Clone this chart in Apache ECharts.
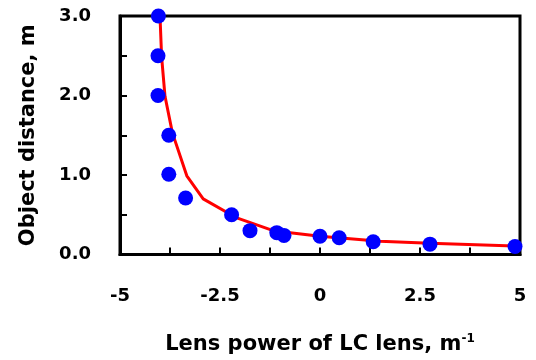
<!DOCTYPE html>
<html>
<head>
<meta charset="utf-8">
<script src="https://cdn.jsdelivr.net/npm/echarts@6/dist/echarts.min.js"></script>
<style>html,body{margin:0;padding:0;background:#fff}#c{width:536px;height:360px}</style>
</head>
<body>
<div id="c"></div>
<script>
var pointX = [-4.04, -4.05, -4.05, -3.78, -3.78, -3.36, -2.21, -1.75, -1.08, -0.9, 0.0, 0.48, 1.33, 2.75, 4.875];
var pointY = [3.0, 2.5, 2.0, 1.5, 1.01, 0.71, 0.5, 0.30, 0.275, 0.24, 0.23, 0.21, 0.16, 0.13, 0.10];
var curveX = [-4.0, -3.96, -3.875, -3.69, -3.33, -2.92, -2.08, -1.17, 0, 1.5, 2.75, 5.25];
var curveY = [3.0, 2.49, 1.99, 1.53, 0.99, 0.70, 0.46, 0.30, 0.23, 0.167, 0.14, 0.10];
var xTickLabels = {'-5': '-5', '-2.5': '-2.5', '0': '0', '2.5': '2.5', '5': '5'};
var yTickLabels = {'0': '0.0', '1': '1.0', '2': '2.0', '3': '3.0'};

var font = "'DejaVu Sans', sans-serif";
var chart = echarts.init(document.getElementById('c'), null, {renderer: 'canvas'});
chart.setOption({
  animation: false,
  backgroundColor: '#fff',
  grid: {left: 120, right: 16, top: 16, bottom: 104, show: true, borderColor: '#000', borderWidth: 3, backgroundColor: 'transparent'},
  xAxis: {
    type: 'value', min: -5, max: 5, interval: 1.25,
    name: 'Lens power of LC lens, m{sup|-1}', nameLocation: 'middle', nameGap: 78,
    nameTextStyle: {fontFamily: font, fontWeight: 'bold', fontSize: 21, color: '#000',
      rich: {sup: {fontFamily: font, fontWeight: 'bold', fontSize: 12, color: '#000', verticalAlign: 'top', padding: [0,0,12,0]}}},
    axisLine: {show: true, onZero: false, lineStyle: {color: '#000', width: 3}},
    axisTick: {show: true, inside: true, length: 7, lineStyle: {color: '#000', width: 2}},
    splitLine: {show: false},
    axisLabel: {margin: 33, fontFamily: font, fontWeight: 'bold', fontSize: 18, color: '#000',
      formatter: function (v) { var k = String(+v.toFixed(2)); return xTickLabels[k] !== undefined ? xTickLabels[k] : ''; }}
  },
  yAxis: {
    type: 'value', min: 0, max: 3, interval: 0.5,
    name: 'Object distance, m', nameLocation: 'middle', nameGap: 81,
    nameTextStyle: {fontFamily: font, fontWeight: 'bold', fontSize: 21, color: '#000'},
    axisLine: {show: true, onZero: false, lineStyle: {color: '#000', width: 3}},
    axisTick: {show: true, inside: true, length: 7, lineStyle: {color: '#000', width: 2}},
    splitLine: {show: false},
    axisLabel: {margin: 29, padding: [5, 0, 0, 0], fontFamily: font, fontWeight: 'bold', fontSize: 18, color: '#000',
      formatter: function (v) { var k = String(+v.toFixed(2)); return yTickLabels[k] !== undefined ? yTickLabels[k] : ''; }}
  },
  series: [
    {
      type: 'line', data: curveX.map(function (x, i) { return [x, curveY[i]]; }),
      showSymbol: false, symbol: 'none', clip: false,
      lineStyle: {color: '#ff0000', width: 3}, z: 2
    },
    {
      type: 'scatter', data: pointX.map(function (x, i) { return [x, pointY[i]]; }),
      symbol: 'circle', symbolSize: 15, clip: false,
      itemStyle: {color: '#0000ff', opacity: 1}, z: 3
    }
  ]
});
</script>
</body>
</html>
